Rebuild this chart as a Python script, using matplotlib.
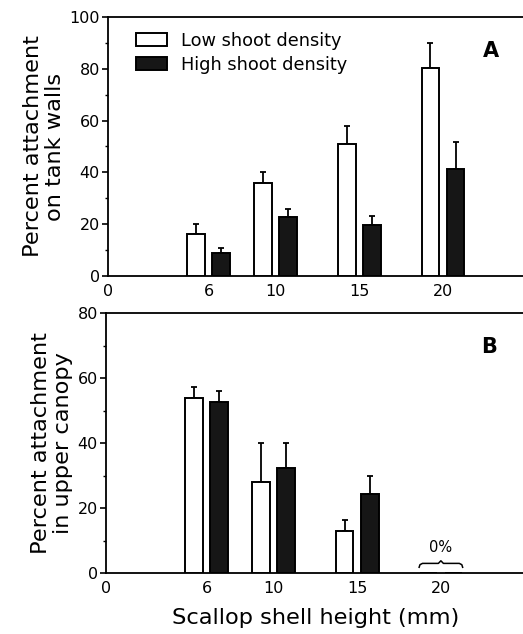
import numpy as np
import matplotlib
matplotlib.use("Agg")
import matplotlib.pyplot as plt
from matplotlib.ticker import MultipleLocator

plt.rcParams['font.family'] = ['DejaVu Sans']

# shell height groups (mm)
sizes = [6, 10, 15, 20]

# panel A: attachment on tank walls
walls_low = [16.2, 35.8, 51.0, 80.5]
walls_low_err = [3.9, 4.4, 7.0, 9.4]
walls_high = [8.8, 22.9, 19.6, 41.1]
walls_high_err = [1.8, 3.0, 3.5, 10.6]

# panel B: attachment in upper canopy (none at 20 mm)
canopy_low = [54.0, 28.1, 13.0, 0.0]
canopy_low_err = [3.2, 11.8, 3.4, 0.0]
canopy_high = [52.8, 32.5, 24.5, 0.0]
canopy_high_err = [3.3, 7.4, 5.4, 0.0]

xticks = [0, 6, 10, 15, 20]

fig = plt.figure(figsize=(5.23, 6.34), dpi=100)
axA = fig.add_axes([0.207, 0.565, 0.80, 0.408])
axB = fig.add_axes([0.203, 0.096, 0.80, 0.410])

off = 0.75
w = 1.05


def draw(ax, low, lowerr, high, higherr, ymax, label):
    x = np.array(sizes, dtype=float)
    l = ax.bar(x - off, low, w, color='white', edgecolor='black', lw=1.4,
               label='Low shoot density', zorder=3)
    h = ax.bar(x + off, high, w, color='#161616', edgecolor='black', lw=1.4,
               label='High shoot density', zorder=3)
    for xs, v, e in [(x - off, low, lowerr), (x + off, high, higherr)]:
        v = np.array(v)
        e = np.array(e)
        m = e > 0
        ax.errorbar(xs[m], v[m], yerr=[np.zeros(m.sum()), e[m]], fmt='none',
                    ecolor='black', elinewidth=1.3, capsize=2, capthick=1.3,
                    zorder=2)
    ax.set_xlim(0, 25)
    ax.set_ylim(0, ymax)
    ax.set_xticks(xticks)
    ax.set_xticklabels([str(t) for t in xticks])
    ax.yaxis.set_major_locator(MultipleLocator(20))
    ax.yaxis.set_minor_locator(MultipleLocator(10))
    ax.tick_params(axis='x', length=0, pad=6, labelsize=11.5)
    ax.tick_params(axis='y', which='major', length=4, width=1.2,
                   labelsize=11.5, pad=2)
    ax.tick_params(axis='y', which='minor', length=2, width=1.0)
    for s in ['left', 'bottom', 'top']:
        ax.spines[s].set_linewidth(1.3)
    ax.spines['right'].set_visible(False)
    ax.text(0.915, 0.87, label, transform=ax.transAxes, fontsize=15,
            fontweight='bold', ha='center', va='center')
    return l, h


l, h = draw(axA, walls_low, walls_low_err, walls_high, walls_high_err, 100, 'A')
axA.legend(handles=[l, h], loc='upper left', bbox_to_anchor=(0.04, 0.985),
           frameon=False, fontsize=12.8, handlelength=1.75, handleheight=0.75,
           handletextpad=0.8, labelspacing=0.35, borderaxespad=0.2)
axA.set_ylabel('Percent attachment\non tank walls', fontsize=16.2,
               linespacing=1.15, labelpad=3)

draw(axB, canopy_low, canopy_low_err, canopy_high, canopy_high_err, 80, 'B')
axB.set_ylabel('Percent attachment\nin upper canopy', fontsize=16.2,
               linespacing=1.15, labelpad=3)
axB.set_xlabel('Scallop shell height (mm)', fontsize=16.2, labelpad=8)

# brace + "0%" over the empty 20 mm group
c = sizes[3]
bx = np.array([-1.3, -1.25, -1.1, -0.15, 0.0, 0.15, 1.1, 1.25, 1.3])
by = np.array([1.8, 2.6, 3.0, 3.0, 3.8, 3.0, 3.0, 2.6, 1.8])
axB.plot(c + bx, by, color='black', lw=1.1, zorder=4)
axB.text(c, 5.5, '0%', ha='center', va='bottom', fontsize=10.5)

fig.savefig('out.png', dpi=100)
